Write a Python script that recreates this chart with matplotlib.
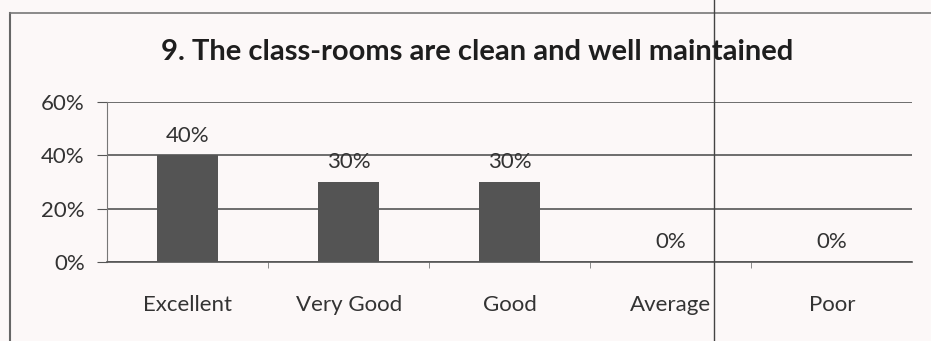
import matplotlib.pyplot as plt
from matplotlib.lines import Line2D

categories = ["Excellent", "Very Good", "Good", "Average", "Poor"]
values = [40, 30, 30, 0, 0]
yticks = [0, 20, 40, 60]

plt.rcParams['font.family'] = ['Lato', 'DejaVu Sans']

fig = plt.figure(figsize=(9.31, 3.41), dpi=100)
fig.patch.set_facecolor("#fcf8f8")
ax = fig.add_axes([0.115, 0.232, 0.865, 0.469])
ax.set_facecolor("#fcf8f8")

x = list(range(len(categories)))
ax.bar(x, values, width=0.38, color="#545454", zorder=3)
for xi, v in zip(x, values):
    ax.text(xi, v + 3.6, f"{v}%", ha="center", va="bottom", fontsize=16, color="#333333")

ax.set_xlim(-0.5, len(categories) - 0.5)
ax.set_ylim(0, 60)
ax.set_yticks(yticks)
ax.set_yticklabels([f"{t}%" for t in yticks], fontsize=16, color="#333333")
ax.set_xticks(x)
ax.set_xticklabels(categories, fontsize=16, color="#333333")
ax.tick_params(axis="x", length=0, pad=24)
ax.tick_params(axis="y", length=7, color="#555555", pad=9)
# small ticks between categories
ax.set_xticks([i + 0.5 for i in x[:-1]], minor=True)
ax.tick_params(axis="x", which="minor", length=4, color="#777777")
ax.yaxis.grid(True, color="#555555", linewidth=1.2, zorder=0)
for side in ["top", "right"]:
    ax.spines[side].set_visible(False)
ax.spines["left"].set_color("#777777")
ax.spines["bottom"].set_color("#555555")
ax.spines["bottom"].set_linewidth(1.2)

fig.text(0.513, 0.847, "9. The class-rooms are clean and well maintained",
         ha="center", va="center", fontsize=21, fontweight="bold", color="#1e1e1e")

# scanned frame lines
fig.add_artist(Line2D([0.011, 0.011], [0.0, 0.962], color="#666666", linewidth=1.5))
fig.add_artist(Line2D([0.011, 1.0], [0.962, 0.962], color="#777777", linewidth=1.2))
fig.add_artist(Line2D([0.767, 0.767], [0.0, 1.0], color="#444444", linewidth=1.0))

fig.savefig("out.png", dpi=100, facecolor=fig.get_facecolor())
